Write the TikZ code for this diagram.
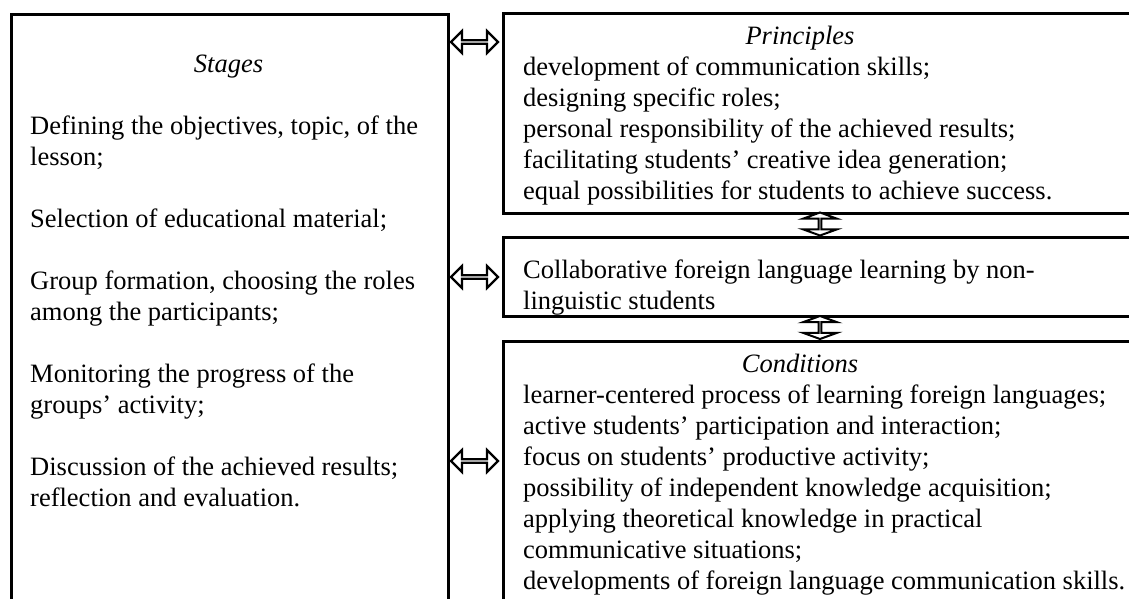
\documentclass[tikz,border=0pt]{standalone}
\usepackage{fontspec}
\setmainfont{Liberation Serif}
\usepackage{tikz}
\usetikzlibrary{shapes.arrows}
\newcommand{\bigtxt}{\fontsize{26.5}{31}\selectfont}

\tikzset{
  panel/.style={draw, line width=2.5pt, inner sep=0pt, anchor=north west},
  line/.style={anchor=base west, inner sep=0pt, font=\bigtxt},
  head/.style={anchor=base, inner sep=0pt, font=\bigtxt\itshape},
  harrow/.style={draw, fill=white, line width=2.2pt, shape=double arrow, inner sep=0pt,
    minimum height=47pt, minimum width=22pt,
    double arrow head extend=6pt, double arrow tip angle=90},
  varrow/.style={draw, fill=white, line width=2pt, shape=double arrow, inner sep=0pt,
    rotate=90, minimum height=23pt, minimum width=34pt,
    double arrow head extend=12pt, double arrow tip angle=140}
}

\begin{document}
\begin{tikzpicture}[x=1pt,y=-1pt]
  \useasboundingbox (0,0) rectangle (1129,598);
  \clip (0,0) rectangle (1129,598);
  % the four panels
  \node[panel, minimum width=437pt, minimum height=620pt] (stages) at (10,13) {};
  \node[panel, minimum width=700pt, minimum height=200pt] (princ) at (502,12) {};
  \node[panel, minimum width=700pt, minimum height=79pt] (collab) at (502,236) {};
  \node[panel, minimum width=700pt, minimum height=300pt] (cond) at (502,340) {};
  % stages
  \node[head] (stghead) at (228.5,72) {Stages};
  \foreach \y/\t [count=\i] in {134/{Defining the objectives, topic, of the},
      165/{lesson;}, 227/{Selection of educational material;},
      289/{Group formation, choosing the roles}, 320/{among the participants;},
      382/{Monitoring the progress of the}, 413/{groups' activity;},
      475/{Discussion of the achieved results;}, 506/{reflection and evaluation.}} {
    \node[line] (stg\i) at (30,\y) {\t};
  }
  % principles
  \node[head] (prnhead) at (800,44) {Principles};
  \foreach \y/\t [count=\i] in {75/{development of communication skills;},
      106/{designing specific roles;},
      137/{personal responsibility of the achieved results;},
      168/{facilitating students' creative idea generation;},
      199/{equal possibilities for students to achieve success.}} {
    \node[line] (prn\i) at (523,\y) {\t};
  }
  % the middle panel
  \node[line] (col1) at (523,278) {Collaborative foreign language learning by non-};
  \node[line] (col2) at (523,309) {linguistic students};
  % conditions
  \node[head] (cndhead) at (800,372) {Conditions};
  \foreach \y/\t [count=\i] in {403/{learner-centered process of learning foreign languages;},
      434/{active students' participation and interaction;},
      465/{focus on students' productive activity;},
      496/{possibility of independent knowledge acquisition;},
      527/{applying theoretical knowledge in practical},
      558/{communicative situations;},
      589/{developments of foreign language communication skills.}} {
    \node[line] (cnd\i) at (523,\y) {\t};
  }
  % double arrows between the panels
  \node[harrow] (ar1) at (474.5,42) {};
  \node[harrow] (ar2) at (474.5,277) {};
  \node[harrow] (ar3) at (474.5,461) {};
  \node[varrow] (ar4) at (820,224) {};
  \node[varrow] (ar5) at (820,327.5) {};
\end{tikzpicture}
\end{document}
